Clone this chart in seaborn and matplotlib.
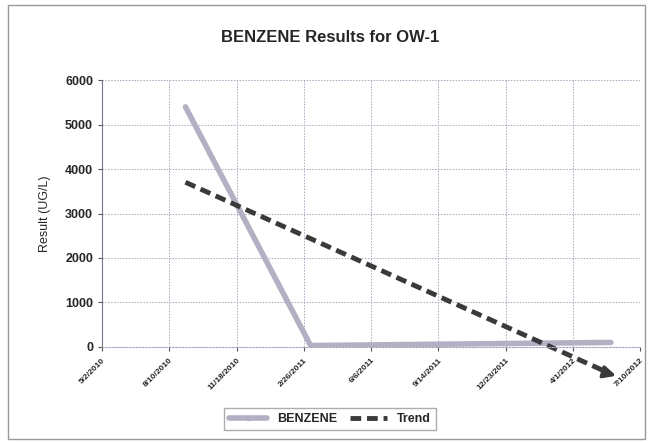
import numpy as np
import pandas as pd
import seaborn as sns
import matplotlib.pyplot as plt
import matplotlib.dates as mdates
from matplotlib.patches import Rectangle
from matplotlib.lines import Line2D

# data
sample_dates = ["2010-09-03", "2011-03-08", "2012-05-27"]
benzene = [5400, 30, 100]
tick_dates = ["2010-05-02", "2010-08-10", "2010-11-18", "2011-02-26", "2011-06-06",
              "2011-09-14", "2011-12-23", "2012-04-01", "2012-07-10"]
tick_labels = ["5/2/2010", "8/10/2010", "11/18/2010", "2/26/2011", "6/6/2011",
               "9/14/2011", "12/23/2011", "4/1/2012", "7/10/2012"]

df = pd.DataFrame({"date": pd.to_datetime(sample_dates), "result": benzene})

sns.set_style("white")
plt.rcParams['font.family'] = ['Liberation Sans', 'DejaVu Sans']

fig = plt.figure(figsize=(6.5, 4.43), dpi=100)
ax = fig.add_axes([0.157, 0.217, 0.828, 0.602])

# outer frame of the chart
fig.patches.append(Rectangle((0.012, 0.008), 0.98, 0.98, transform=fig.transFigure,
                             fill=False, edgecolor="#999999", linewidth=1.0))

sns.lineplot(data=df, x="date", y="result", ax=ax, color="#b3b0c4", linewidth=4,
             marker="o", markersize=3, markeredgewidth=0, label="BENZENE")

# linear trend of the results
xnum = mdates.date2num(df["date"])
coef = np.polyfit(xnum, df["result"], 1)
tx = np.array([xnum[0], xnum[-1]])
ty = np.polyval(coef, tx)
ax.plot(tx, ty, color="#3a3a3a", linewidth=3.5, linestyle=(0, (2.2, 1.2)),
        clip_on=False, label="Trend")
ax.annotate("", xy=(tx[1] + 12, ty[1] - 60), xytext=(tx[1] - 15, ty[1] + 60),
            arrowprops=dict(arrowstyle="-|>", color="#3a3a3a", lw=2.5,
                            mutation_scale=18), annotation_clip=False)

tick_nums = mdates.date2num(pd.to_datetime(tick_dates))
ax.set_xlim(tick_nums[0], tick_nums[-1])
ax.set_ylim(0, 6000)
ax.set_xticks(tick_nums)
ax.set_xticklabels(tick_labels, rotation=45, ha="right", va="top",
                   rotation_mode="anchor", fontsize=6, fontweight="bold")
ax.set_yticks(np.arange(0, 6001, 1000))
ax.set_yticklabels([str(v) for v in range(0, 6001, 1000)], fontsize=9, fontweight="bold")
ax.tick_params(axis="both", length=3, width=0.8, color="#555555", direction="out",
               bottom=True, left=True)
ax.tick_params(axis="x", pad=4)

ax.grid(True, color="#a6a6c0", linestyle=(0, (1.5, 1.5)), linewidth=0.7)
for s in ["top", "right"]:
    ax.spines[s].set_visible(False)
ax.spines["left"].set_color("#777788")
ax.spines["bottom"].set_color("#a6a6c0")
ax.spines["bottom"].set_linestyle((0, (1.5, 1.5)))

ax.set_xlabel("")
ax.set_ylabel("Result (UG/L)", fontsize=9)
ax.yaxis.set_label_coords(-0.095, 0.5)
fig.text(0.508, 0.915, "BENZENE Results for OW-1", fontsize=12, fontweight="bold",
         ha="center", va="center")

handles = [Line2D([], [], color="#b3b0c4", linewidth=4, marker="o", markersize=3),
           Line2D([], [], color="#3a3a3a", linewidth=3.5, linestyle=(0, (2.2, 1.2)))]
ax.get_legend().remove()
fig.legend(handles, ["BENZENE", "Trend"], loc="lower center",
           bbox_to_anchor=(0.508, 0.015), ncol=2, frameon=True, fancybox=False,
           edgecolor="#999999", prop={"weight": "bold", "size": 9},
           handlelength=3, columnspacing=1.0)

fig.savefig("out.png", dpi=100)
